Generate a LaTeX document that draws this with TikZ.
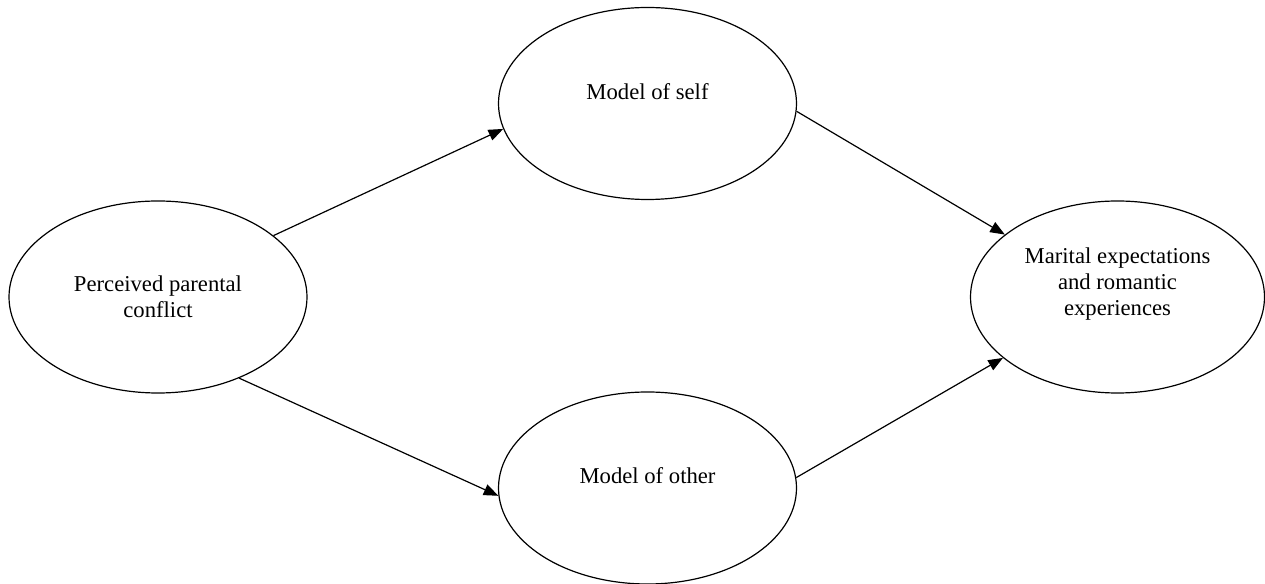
\documentclass[tikz,border=0pt]{standalone}
\usepackage{fontspec}                 % police du texte
\setmainfont{Liberation Serif}
\usetikzlibrary{shapes.geometric,     % pour les ellipses
           arrows.meta}               % pointes de fleches
\tikzset{
  oval/.style={draw, ellipse, line width=0.9pt, minimum width=223.5pt,
               minimum height=144pt, inner sep=0pt},
  legende/.style={align=center, font=\fontsize{17}{19.5}\selectfont},
  fleche/.style={line width=0.9pt, -{Triangle[length=11pt,width=8.5pt]}}
}
\begin{document}
\begin{tikzpicture}[x=0.75pt,y=-0.75pt]
\useasboundingbox (0,0) rectangle (1265,584);
\node[oval] (ppc) at (158,297) {};
\node[oval] (self) at (647.5,103.5) {};
\node[oval] (other) at (647.5,488) {};
\node[oval, minimum width=220.5pt] (mer) at (1117.5,297) {};
\node[legende] (ppc-t) at (ppc.center) {Perceived parental\\conflict};
\node[legende] (self-t) at ([yshift=9pt]self.center) {Model of self};
\node[legende] (other-t) at ([yshift=9pt]other.center) {Model of other};
\node[legende] (mer-t) at ([yshift=9.5pt]mer.center) {Marital expectations\\and romantic\\experiences};
\foreach \a/\b in {ppc.28/self.190, ppc.315/other.183, self.357/mer.151, other.4/mer.208}
\draw[fleche] (\a) -- (\b);
\end{tikzpicture}
\end{document}
